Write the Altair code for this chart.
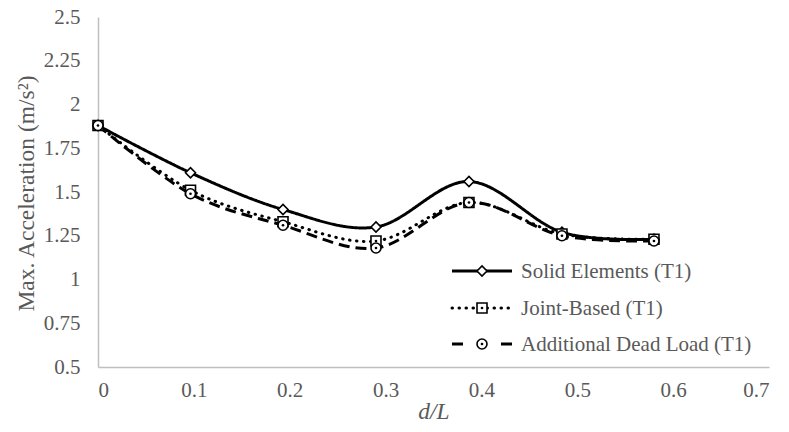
import altair as alt
import pandas as pd

# ---- data ----
d_over_L = [0.0, 0.0965, 0.193, 0.29, 0.387, 0.484, 0.58]
solid_elements = [1.88, 1.61, 1.40, 1.30, 1.56, 1.27, 1.23]
joint_based = [1.88, 1.51, 1.33, 1.22, 1.44, 1.26, 1.23]
dead_load = [1.88, 1.49, 1.31, 1.18, 1.44, 1.25, 1.22]
series_names = ["Solid Elements (T1)", "Joint-Based (T1)", "Additional Dead Load (T1)"]
x_ticks = [0, 0.1, 0.2, 0.3, 0.4, 0.5, 0.6, 0.7]
y_ticks = [0.5, 0.75, 1.0, 1.25, 1.5, 1.75, 2.0, 2.25, 2.5]

FONT = "Liberation Serif"
GREY = "#595959"
AXIS = "#bfbfbf"
FS = 21
TFS = 23.5

x_enc = alt.X(
    "x:Q",
    scale=alt.Scale(domain=[0, 0.7], nice=False, zero=False),
    axis=alt.Axis(
        values=x_ticks, title="d/L", titleFontStyle="italic", titleFont=FONT,
        titleFontSize=TFS, titleFontWeight="normal", titleColor=GREY,
        titleY=44, titleBaseline="middle",
        labelFont=FONT, labelFontSize=FS, labelColor=GREY, labelPadding=12,
        labelExpr="datum.value == 0 ? '0' : format(datum.value, '.1f')",
        ticks=False, grid=False, domainColor=AXIS, domainWidth=1.5,
    ),
)
y_enc = alt.Y(
    "y:Q",
    scale=alt.Scale(domain=[0.5, 2.5], nice=False, zero=False),
    axis=alt.Axis(
        values=y_ticks, title="Max. Acceleration (m/s²)", titleFont=FONT,
        titleFontSize=TFS, titleFontWeight="normal", titleColor=GREY,
        titleX=-72, titleY=176, titleAngle=-90, titleBaseline="middle",
        labelFont=FONT, labelFontSize=FS, labelColor=GREY, labelPadding=18,
        labelExpr="datum.value == 1 ? '1' : datum.value == 2 ? '2' : format(datum.value, '')",
        ticks=False, grid=False, domainColor=AXIS, domainWidth=1.5,
    ),
)

styles = [
    dict(values=solid_elements, dash=[1, 0], shape="diamond", dot=False, cap="butt"),
    dict(values=joint_based, dash=[0.5, 6.5], shape="square", dot=True, cap="round"),
    dict(values=dead_load, dash=[11, 6], shape="circle", dot=True, cap="butt"),
]

layers = []
for name, st in zip(series_names, styles):
    df = pd.DataFrame({"x": d_over_L, "y": st["values"], "series": name})
    base = alt.Chart(df).encode(x=x_enc, y=y_enc)
    layers.append(
        base.mark_line(interpolate="cardinal", color="black", strokeWidth=3,
                       strokeDash=st["dash"], strokeCap=st["cap"])
    )
for name, st in zip(series_names, styles):
    df = pd.DataFrame({"x": d_over_L, "y": st["values"], "series": name})
    base = alt.Chart(df).encode(x=x_enc, y=y_enc)
    layers.append(
        base.mark_point(shape=st["shape"], filled=True, fill="white", stroke="black",
                        strokeWidth=1.6, size=100, opacity=1)
    )
    if st["dot"]:
        layers.append(
            base.mark_point(shape="circle", filled=True, color="black", size=7, opacity=1)
        )

# ---- legend (inside plot, lower right) ----
leg_rows = [254, 291, 327]
leg_dash = [[1, 0], [0.5, 6.5], [11, 38]]
for name, st, ry, dsh in zip(series_names, styles, leg_rows, leg_dash):
    ldf = pd.DataFrame({"label": [name]})
    lb = alt.Chart(ldf)
    layers.append(
        lb.mark_rule(color="black", strokeWidth=3, strokeDash=dsh, strokeCap=st["cap"]).encode(
            x=alt.value(354), x2=alt.value(414), y=alt.value(ry))
    )
    layers.append(
        lb.mark_point(shape=st["shape"], filled=True, fill="white", stroke="black",
                      strokeWidth=1.6, size=100, opacity=1).encode(
            x=alt.value(384), y=alt.value(ry))
    )
    if st["dot"]:
        layers.append(
            lb.mark_point(shape="circle", filled=True, color="black", size=7, opacity=1).encode(
                x=alt.value(384), y=alt.value(ry))
        )
    layers.append(
        lb.mark_text(align="left", baseline="middle", font=FONT, fontSize=FS, color=GREY).encode(
            x=alt.value(423), y=alt.value(ry + 1), text="label:N")
    )

chart = alt.layer(*layers).properties(
    width=671, height=350,
    padding={"left": 98, "top": 17, "right": 20, "bottom": 65},
    autosize=alt.AutoSizeParams(type="none"),
    background="white",
).configure_view(stroke=None)

chart.save("out.html", embed_options={"renderer": "svg", "actions": False})
